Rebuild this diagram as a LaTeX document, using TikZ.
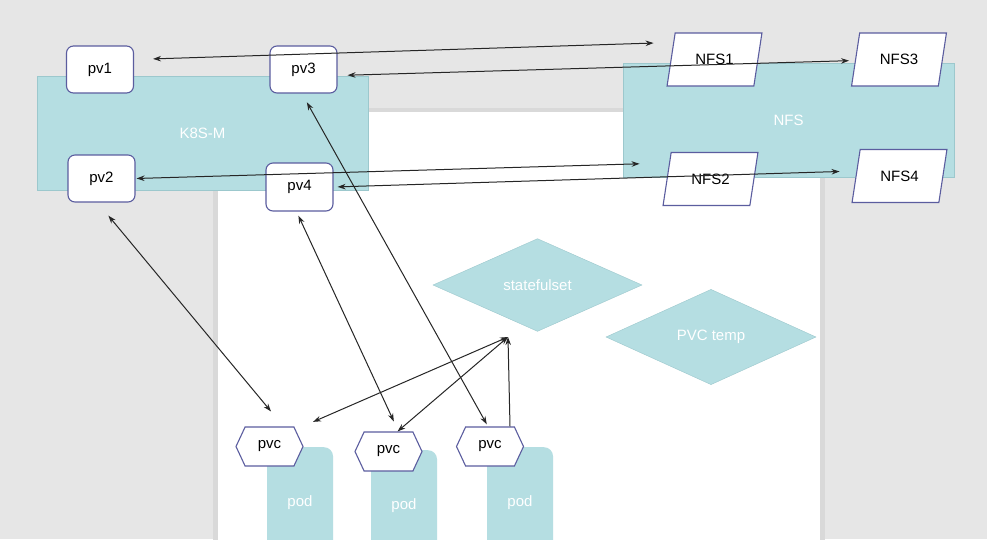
\documentclass[tikz,border=0pt]{standalone}
\usepackage{fontspec}
\setmainfont{Liberation Sans}
\usetikzlibrary{shapes.geometric,shapes.symbols,arrows.meta}

\definecolor{canvas}{HTML}{E6E6E6}
\definecolor{shadowgray}{HTML}{D9D9D9}
\definecolor{tealfill}{HTML}{B5DEE2}
\definecolor{tealline}{HTML}{9CC8CD}
\definecolor{edge}{HTML}{5B5D9F}

\tikzset{
	lbl/.style={font=\fontsize{15}{18}\selectfont},
	group/.style={lbl, rectangle, fill=tealfill, draw=tealline, text=white},
	pvbox/.style={lbl, rectangle, rounded corners=7pt, draw=edge, line width=1.1pt, fill=white, minimum width=67pt, minimum height=47pt},
	nfsbox/.style={lbl, trapezium, trapezium left angle=75, trapezium right angle=105, trapezium stretches=true, draw=edge, line width=1.1pt, fill=white, minimum width=95pt, minimum height=53pt},
	podbox/.style={lbl, rectangle, rounded corners=9pt, fill=tealfill, text=white, minimum width=66pt, minimum height=110pt, anchor=north},
	pvcbox/.style={lbl, signal, signal to=east and west, signal pointer angle=130, draw=edge, line width=1.1pt, fill=white, minimum width=67pt, minimum height=39pt},
	setbox/.style={lbl, diamond, fill=tealfill, draw=tealline, text=white, minimum width=209pt, minimum height=86pt},
	link/.style={draw=black!85, line width=1pt},
	>={Stealth[length=8pt,width=5.5pt]}
}

\begin{document}
\begin{tikzpicture}[x=1pt, y=-1pt]
	% canvas 987 x 539, y runs downwards
	\clip (0,0) rectangle (987,539);
	\fill[canvas] (0,0) rectangle (987,539);
	\fill[shadowgray] (213,108) rectangle (825,545);
	\fill[white] (218,112) rectangle (820,545);

	\node[group, minimum width=331pt, minimum height=114pt] (k8s) at (202.5,133) {K8S-M};
	\node[group, minimum width=331pt, minimum height=114pt] (nfs) at (788.5,120) {NFS};

	\node[podbox] (pod1) at (300,447) {pod};
	\node[podbox] (pod2) at (404,450) {pod};
	\node[podbox] (pod3) at (520,447) {pod};

	\node[pvcbox] (pvc1) at (269.5,446.5) {pvc};
	\node[pvcbox] (pvc2) at (388.5,451.5) {pvc};
	\node[pvcbox] (pvc3) at (490,446.5) {pvc};

	\node[pvbox] (pv1) at (100,69.5) {pv1};
	\node[pvbox] (pv2) at (101.5,178.5) {pv2};
	\node[pvbox] (pv3) at (303.5,69.5) {pv3};
	\node[pvbox, minimum height=48pt] (pv4) at (299.5,187) {pv4};

	\node[nfsbox] (nfs1) at (714.5,59.5) {NFS1};
	\node[nfsbox] (nfs2) at (710.5,179) {NFS2};
	\node[nfsbox] (nfs3) at (899,59.5) {NFS3};
	\node[nfsbox] (nfs4) at (899.5,176) {NFS4};

	\node[setbox] (sts) at (537.5,285) {statefulset};
	\node[setbox, minimum width=210pt] (pvctemp) at (711,337) {PVC temp};

	\coordinate (join) at (508,337);

	\draw[link, <->, shorten <=19pt, shorten >=17pt] ([yshift=10pt]pv1.east) -- ([yshift=17pt]nfs1.west);
	\draw[link, <->, shorten <=10pt, shorten >=6pt] ([yshift=-6pt]pv3.east) -- ([yshift=-1pt]nfs3.west);
	\draw[link, <->, shorten <=1pt, shorten >=27pt] (pv2.east) -- ([yshift=16pt]nfs2.west);
	\draw[link, <->, shorten <=4pt, shorten >=16pt] (pv4.east) -- ([yshift=5pt]nfs4.west);

	\draw[link, <->, shorten <=17pt, shorten >=19.5pt] ([xshift=-4pt]pv2.south) -- ([xshift=14pt]pvc1.north);
	\draw[link, <->, shorten <=4.5pt, shorten >=11pt] ([xshift=-3pt]pv4.south) -- ([xshift=10pt]pvc2.north);
	\draw[link, <->, shorten <=10pt, shorten >=2.5pt] ([xshift=-1.5pt]pv3.south) -- ([xshift=-2pt]pvc3.north);

	\draw[link, <->, shorten >=11.5pt] (join) -- ([xshift=33pt]pvc1.north);
	\draw[link, <->] (join) -- ([xshift=9pt]pvc2.north);
	\draw[link, ->] ([xshift=20pt]pvc3.north) -- (join);
\end{tikzpicture}
\end{document}
